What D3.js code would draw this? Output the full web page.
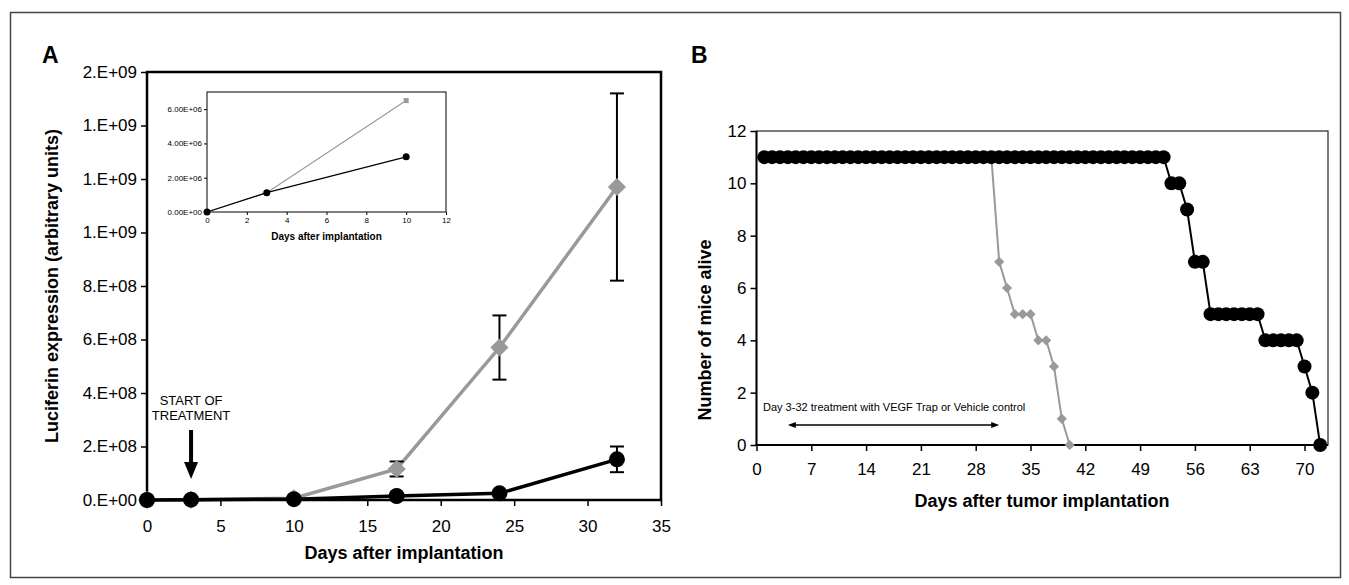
<!DOCTYPE html>
<html>
<head>
<meta charset="utf-8">
<script src="https://cdn.jsdelivr.net/npm/d3@7"></script>
<style>
  body { margin: 0; background: #fff; }
  svg text { font-family: "Liberation Sans", Arial, sans-serif; }
</style>
</head>
<body>
<div id="fig"></div>
<script>

// panel A - luciferin by day
var daysA = [0, 3, 10, 17, 24, 32];
var trapLum = [0, 1.13e6, 3.22e6, 1.5e7, 2.5e7, 1.52e8];
var trapErr = [0, 0, 0, 0, 0, 4.8e7];
var vehLum = [0, 1.13e6, 6.5e6, 1.16e8, 5.7e8, 1.17e9];
var vehErr = [0, 0, 0, 2.8e7, 1.2e8, 3.5e8];
var lumTicks = [0, 2e8, 4e8, 6e8, 8e8, 1.0e9, 1.2e9, 1.4e9, 1.6e9];
var dayTicksA = [0, 5, 10, 15, 20, 25, 30, 35];

// inset = first three time points
var insetN = 3;
var insetYTicks = [0, 2e6, 4e6, 6e6];
var insetXTicks = [0, 2, 4, 6, 8, 10, 12];

// panel B - survival
var trapDays = [1,2,3,4,5,6,7,8,9,10,11,12,13,14,15,16,17,18,19,20,21,22,23,24,25,26,27,28,29,30,
  31,32,33,34,35,36,37,38,39,40,41,42,43,44,45,46,47,48,49,50,51,52,53,54,55,56,57,58,59,60,
  61,62,63,64,65,66,67,68,69,70,71,72];
var trapAlive = [11,11,11,11,11,11,11,11,11,11,11,11,11,11,11,11,11,11,11,11,11,11,11,11,11,11,11,11,11,11,
  11,11,11,11,11,11,11,11,11,11,11,11,11,11,11,11,11,11,11,11,11,11,10,10,9,7,7,5,5,5,
  5,5,5,5,4,4,4,4,4,3,2,0];
var vehDays = [1,2,3,4,5,6,7,8,9,10,11,12,13,14,15,16,17,18,19,20,21,22,23,24,25,26,27,28,29,30,
  31,32,33,34,35,36,37,38,39,40];
var vehAlive = [11,11,11,11,11,11,11,11,11,11,11,11,11,11,11,11,11,11,11,11,11,11,11,11,11,11,11,11,11,11,
  7,6,5,5,5,4,4,3,1,0];
var aliveTicks = [0, 2, 4, 6, 8, 10, 12];
var dayTicksB = [0, 7, 14, 21, 28, 35, 42, 49, 56, 63, 70];

var grey = '#999';

var svg = d3.select('#fig').append('svg')
  .attr('width', 1349)
  .attr('height', 585);

// outer border
svg.append('rect')
  .attr('x', 10.5).attr('y', 12.5)
  .attr('width', 1330).attr('height', 565)
  .style('fill', 'none')
  .style('stroke', '#444')
  .style('stroke-width', 1.5);

// Excel style "2.E+09"
function fmtE(v) {
  if (v == 0) return '0.E+00';
  var e = Math.floor(Math.log10(v));
  var m = Math.round(v / Math.pow(10, e));
  if (m == 10) { m = 1; e++; }
  return m + '.E+' + (e < 10 ? '0' + e : e);
}
function fmtE2(v) {
  if (v == 0) return '0.00E+00';
  var e = Math.floor(Math.log10(v));
  var m = v / Math.pow(10, e);
  return m.toFixed(2) + 'E+' + (e < 10 ? '0' + e : e);
}

function styleAxis(g, size, width) {
  g.attr('font-family', null).attr('font-size', null);
  g.selectAll('text').style('font-size', size + 'px').style('fill', '#000');
  g.selectAll('line').style('stroke', '#000').style('stroke-width', width);
  g.select('.domain').remove();
}

var pts = function(xs, ys) {
  return xs.map(function(d, i) { return [d, ys[i]]; });
};

/* ---------------- panel A ---------------- */
var xA = d3.scaleLinear().domain([0, 35]).range([147, 661]);
var yA = d3.scaleLinear().domain([0, 1.6e9]).range([500, 72]);

svg.append('text').attr('x', 42).attr('y', 63)
  .style('font-size', '23px').style('font-weight', 'bold').text('A');

var gy = svg.append('g').attr('transform', 'translate(147,0)')
  .call(d3.axisLeft(yA).tickValues(lumTicks).tickFormat(fmtE).tickSize(6).tickPadding(4));
styleAxis(gy, 17, 1.5);

var gx = svg.append('g').attr('transform', 'translate(0,500)')
  .call(d3.axisBottom(xA).tickValues(dayTicksA).tickSize(6).tickPadding(14));
styleAxis(gx, 17, 1.5);

svg.append('rect')
  .attr('x', 147).attr('y', 72)
  .attr('width', 661 - 147).attr('height', 500 - 72)
  .style('fill', 'none').style('stroke', '#000').style('stroke-width', 2.5);

svg.append('text')
  .attr('transform', 'translate(58,' + (72 + 500) / 2 + ') rotate(-90)')
  .attr('text-anchor', 'middle')
  .style('font-size', '18px').style('font-weight', 'bold')
  .text('Luciferin expression (arbitrary units)');

svg.append('text')
  .attr('x', (147 + 661) / 2).attr('y', 559)
  .attr('text-anchor', 'middle')
  .style('font-size', '18px').style('font-weight', 'bold')
  .text('Days after implantation');

// start of treatment arrow
var ax = xA(3);
svg.append('text').attr('x', ax).attr('y', 405).attr('text-anchor', 'middle')
  .style('font-size', '13px').text('START OF');
svg.append('text').attr('x', ax).attr('y', 420).attr('text-anchor', 'middle')
  .style('font-size', '13px').text('TREATMENT');
svg.append('line').attr('x1', ax).attr('x2', ax).attr('y1', 430).attr('y2', 464)
  .style('stroke', '#000').style('stroke-width', 4);
svg.append('path')
  .attr('d', 'M' + (ax - 7) + ',462 L' + (ax + 7) + ',462 L' + ax + ',479 Z')
  .style('fill', '#000');

var lineA = d3.line()
  .x(function(d) { return xA(d[0]); })
  .y(function(d) { return yA(d[1]); });

// error bars
function errBars(vals, errs) {
  var d = daysA.map(function(x, i) { return { x: x, v: vals[i], e: errs[i] }; })
    .filter(function(p) { return p.e > 0; });
  var g = svg.append('g').style('stroke', '#000').style('stroke-width', 2);
  g.selectAll('.eb').data(d).enter().append('line')
    .attr('x1', function(p) { return xA(p.x); })
    .attr('x2', function(p) { return xA(p.x); })
    .attr('y1', function(p) { return yA(p.v - p.e); })
    .attr('y2', function(p) { return yA(p.v + p.e); });
  g.selectAll('.cap').data(d.concat(d)).enter().append('line')
    .attr('x1', function(p) { return xA(p.x) - 7; })
    .attr('x2', function(p) { return xA(p.x) + 7; })
    .attr('y1', function(p, i) { return i < d.length ? yA(p.v - p.e) : yA(p.v + p.e); })
    .attr('y2', function(p, i) { return i < d.length ? yA(p.v - p.e) : yA(p.v + p.e); });
}

var vehA = pts(daysA, vehLum), trapA = pts(daysA, trapLum);

svg.append('path').datum(vehA).attr('d', lineA)
  .style('fill', 'none').style('stroke', grey).style('stroke-width', 3.5);
errBars(vehLum, vehErr);
svg.selectAll('.vdA').data(vehA).enter().append('path')
  .attr('class', 'vdA')
  .attr('transform', function(d) { return 'translate(' + xA(d[0]) + ',' + yA(d[1]) + ') rotate(45)'; })
  .attr('d', d3.symbol(d3.symbolSquare, 165))
  .style('fill', grey);

svg.append('path').datum(trapA).attr('d', lineA)
  .style('fill', 'none').style('stroke', '#000').style('stroke-width', 3.5);
errBars(trapLum, trapErr);
svg.selectAll('.tcA').data(trapA).enter().append('circle')
  .attr('cx', function(d) { return xA(d[0]); })
  .attr('cy', function(d) { return yA(d[1]); })
  .attr('r', 8)
  .style('fill', '#000');

// inset
var xI = d3.scaleLinear().domain([0, 12]).range([207, 446]);
var yI = d3.scaleLinear().domain([0, 7e6]).range([212, 92]);

svg.append('rect')
  .attr('x', 207).attr('y', 92)
  .attr('width', 446 - 207).attr('height', 212 - 92)
  .style('fill', '#fff').style('stroke', '#000').style('stroke-width', 1);

var giy = svg.append('g').attr('transform', 'translate(207,0)')
  .call(d3.axisLeft(yI).tickValues(insetYTicks).tickFormat(fmtE2).tickSize(3).tickPadding(2));
styleAxis(giy, 8, 1);
var gix = svg.append('g').attr('transform', 'translate(0,212)')
  .call(d3.axisBottom(xI).tickValues(insetXTicks).tickSize(3).tickPadding(2));
styleAxis(gix, 8, 1);

svg.append('text')
  .attr('x', (207 + 446) / 2).attr('y', 240)
  .attr('text-anchor', 'middle')
  .style('font-size', '10px').style('font-weight', 'bold')
  .text('Days after implantation');

var lineI = d3.line()
  .x(function(d) { return xI(d[0]); })
  .y(function(d) { return yI(d[1]); });

var vehI = vehA.slice(0, insetN), trapI = trapA.slice(0, insetN);
svg.append('path').datum(vehI).attr('d', lineI)
  .style('fill', 'none').style('stroke', grey).style('stroke-width', 1.2);
svg.selectAll('.vsI').data(vehI).enter().append('rect')
  .attr('x', function(d) { return xI(d[0]) - 2.5; })
  .attr('y', function(d) { return yI(d[1]) - 2.5; })
  .attr('width', 5).attr('height', 5)
  .style('fill', grey);
svg.append('path').datum(trapI).attr('d', lineI)
  .style('fill', 'none').style('stroke', '#000').style('stroke-width', 1.2);
svg.selectAll('.tcI').data(trapI).enter().append('circle')
  .attr('cx', function(d) { return xI(d[0]); })
  .attr('cy', function(d) { return yI(d[1]); })
  .attr('r', 3.5)
  .style('fill', '#000');

/* ---------------- panel B ---------------- */
var xB = d3.scaleLinear().domain([0, 73]).range([756.5, 1328]);
var yB = d3.scaleLinear().domain([0, 12]).range([445, 131]);

svg.append('text').attr('x', 691).attr('y', 63)
  .style('font-size', '23px').style('font-weight', 'bold').text('B');

svg.append('rect')
  .attr('x', 756.5).attr('y', 131)
  .attr('width', 1328 - 756.5).attr('height', 445 - 131)
  .style('fill', 'none').style('stroke', '#222').style('stroke-width', 1.2);

var gby = svg.append('g').attr('transform', 'translate(756.5,0)')
  .call(d3.axisLeft(yB).tickValues(aliveTicks).tickSize(6).tickPadding(4));
styleAxis(gby, 17, 1.5);
var gbx = svg.append('g').attr('transform', 'translate(0,445)')
  .call(d3.axisBottom(xB).tickValues(dayTicksB).tickSize(6).tickPadding(12));
styleAxis(gbx, 17, 1.5);

svg.append('line').attr('x1', 756.5).attr('x2', 756.5).attr('y1', 131).attr('y2', 446)
  .style('stroke', '#000').style('stroke-width', 2);
svg.append('line').attr('x1', 755.5).attr('x2', 1328).attr('y1', 445).attr('y2', 445)
  .style('stroke', '#000').style('stroke-width', 2);

svg.append('text')
  .attr('transform', 'translate(711,' + 330 + ') rotate(-90)')
  .attr('text-anchor', 'middle')
  .style('font-size', '18px').style('font-weight', 'bold')
  .text('Number of mice alive');

svg.append('text')
  .attr('x', 1042).attr('y', 507)
  .attr('text-anchor', 'middle')
  .style('font-size', '18px').style('font-weight', 'bold')
  .text('Days after tumor implantation');

// treatment window
svg.append('text').attr('x', 763).attr('y', 411)
  .style('font-size', '11px').text('Day 3-32 treatment with VEGF Trap or Vehicle control');
var a1 = xB(4), a2 = xB(31);
svg.append('line').attr('x1', a1 + 3).attr('x2', a2 - 3).attr('y1', 425).attr('y2', 425)
  .style('stroke', '#000').style('stroke-width', 1.3);
svg.append('path')
  .attr('d', 'M' + a1 + ',425 L' + (a1 + 8) + ',422 L' + (a1 + 8) + ',428 Z M' +
    a2 + ',425 L' + (a2 - 8) + ',422 L' + (a2 - 8) + ',428 Z')
  .style('fill', '#000');

var lineB = d3.line()
  .x(function(d) { return xB(d[0]); })
  .y(function(d) { return yB(d[1]); });

var vehB = pts(vehDays, vehAlive), trapB = pts(trapDays, trapAlive);

svg.append('path').datum(vehB).attr('d', lineB)
  .style('fill', 'none').style('stroke', grey).style('stroke-width', 2);
svg.selectAll('.vdB').data(vehB).enter().append('path')
  .attr('transform', function(d) { return 'translate(' + xB(d[0]) + ',' + yB(d[1]) + ') rotate(45)'; })
  .attr('d', d3.symbol(d3.symbolSquare, 52))
  .style('fill', grey);

svg.append('path').datum(trapB).attr('d', lineB)
  .style('fill', 'none').style('stroke', '#000').style('stroke-width', 2);
svg.selectAll('.tcB').data(trapB).enter().append('circle')
  .attr('cx', function(d) { return xB(d[0]); })
  .attr('cy', function(d) { return yB(d[1]); })
  .attr('r', 7)
  .style('fill', '#000');

</script>
</body>
</html>
